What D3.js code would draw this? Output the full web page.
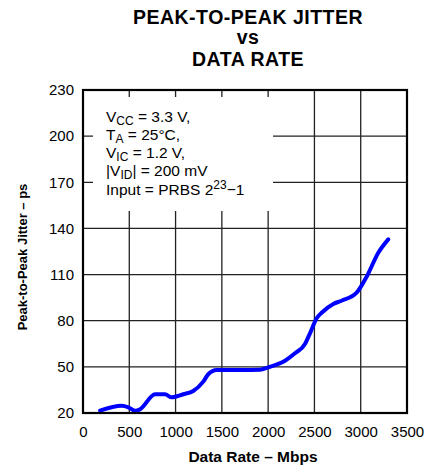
<!DOCTYPE html>
<html><head><meta charset="utf-8">
<script src="https://cdn.jsdelivr.net/npm/d3@7"></script>
<style>body{margin:0;background:#fff}svg{display:block}text{font-family:"Liberation Sans",Arial,sans-serif}</style>
</head><body>
<svg id="c" width="433" height="470"></svg>
<script>
const rates = [184,418,490,562,616,778,886,958,1083,1191,1299,1353,1444,1700,1912,2002,2182,2290,2398,2452,2524,2578,2704,2794,2956,3064,3190,3298];
const jitter = [21.5,24.7,23.7,21.5,22.4,32.2,32.2,30.2,32.2,34.3,40.4,45.2,48,48,48.2,49.7,54,58.8,64.9,71.8,81.6,85.2,90.9,93,98.2,108.6,124.2,132.9];
const xTicks = [0,500,1000,1500,2000,2500,3000,3500];
const yTicks = [20,50,80,110,140,170,200,230];
const titleLines = ["PEAK-TO-PEAK JITTER","vs","DATA RATE"];

const svg = d3.select("#c");
const L=83,R=407,T=90,B=413;
const x = d3.scaleLinear().domain([0,3500]).range([L,R]);
const y = d3.scaleLinear().domain([20,230]).range([B,T]);

// title
svg.selectAll(".t").data(titleLines).enter().append("text")
  .attr("x",248).attr("y",(d,i)=>[24,43.5,66][i])
  .attr("text-anchor","middle").attr("font-weight","bold").attr("font-size",19.5)
  .attr("letter-spacing",0.5).text(d=>d);

// grid
const g = svg.append("g");
g.selectAll(".vg").data(xTicks.slice(1,-1)).enter().append("line")
  .attr("x1",d=>x(d)).attr("x2",d=>x(d)).attr("y1",T).attr("y2",B)
  .attr("stroke","#222").attr("stroke-width",1.3);
g.selectAll(".hg").data(yTicks.slice(1,-1)).enter().append("line")
  .attr("y1",d=>y(d)).attr("y2",d=>y(d)).attr("x1",L).attr("x2",R)
  .attr("stroke","#222").attr("stroke-width",1.3);

// legend box mask
svg.append("rect").attr("x",93).attr("y",97).attr("width",180).attr("height",114).attr("fill","#fff");

// data line
svg.append("path").datum(rates.map((r,i)=>[r,jitter[i]]))
  .attr("d",d3.line().x(d=>x(d[0])).y(d=>y(d[1])).curve(d3.curveMonotoneX))
  .attr("fill","none").attr("stroke","#0000ff").attr("stroke-width",4).attr("stroke-linejoin","round").attr("stroke-linecap","round");

// frame
svg.append("rect").attr("x",L).attr("y",T).attr("width",R-L).attr("height",B-T)
  .attr("fill","none").attr("stroke","#000").attr("stroke-width",2.2);

// axes labels
const xa = svg.append("g").attr("transform",`translate(0,${B})`)
  .call(d3.axisBottom(x).tickValues(xTicks).tickSize(0).tickPadding(13).tickFormat(d3.format("d")));
xa.select(".domain").remove();
xa.selectAll("text").attr("font-size",15).attr("fill","#000").attr("font-family","Liberation Sans, Arial, sans-serif");
const ya = svg.append("g").attr("transform",`translate(${L},0)`)
  .call(d3.axisLeft(y).tickValues(yTicks).tickSize(0).tickPadding(9).tickFormat(d3.format("d")));
ya.select(".domain").remove();
ya.selectAll("text").attr("font-size",15).attr("fill","#000").attr("font-family","Liberation Sans, Arial, sans-serif");

svg.append("text").attr("x",253).attr("y",462).attr("text-anchor","middle")
  .attr("font-weight","bold").attr("font-size",15.5).text("Data Rate – Mbps");
svg.append("text").attr("transform","translate(26.5,257) rotate(-90)").attr("text-anchor","middle")
  .attr("font-weight","bold").attr("font-size",13).text("Peak-to-Peak Jitter – ps");

// legend text
const lx=106, ly0=121.5, dy=18.25, fs=15.5;
function line(i, parts){
  const t = svg.append("text").attr("x",lx).attr("y",ly0+i*dy).attr("font-size",fs);
  parts.forEach(p=>{
    const ts=t.append("tspan").text(p[0]);
    if(p[1]!==undefined && p[1]!==null){
      if(p[2]) ts.attr("font-size",p[2]);
      ts.attr("dy",p[1]);
    }
  });
}
line(0,[["V"],["CC",3,12],[" = 3.3 V,",-3]]);
line(1,[["T"],["A",3,12],[" = 25°C,",-3]]);
line(2,[["V"],["IC",3,12],[" = 1.2 V,",-3]]);
line(3,[["|V"],["ID",3,12],["| = 200 mV",-3]]);
line(4,[["Input = PRBS 2"],["23",-6,12],["−1",6]]);
</script>
</body></html>
